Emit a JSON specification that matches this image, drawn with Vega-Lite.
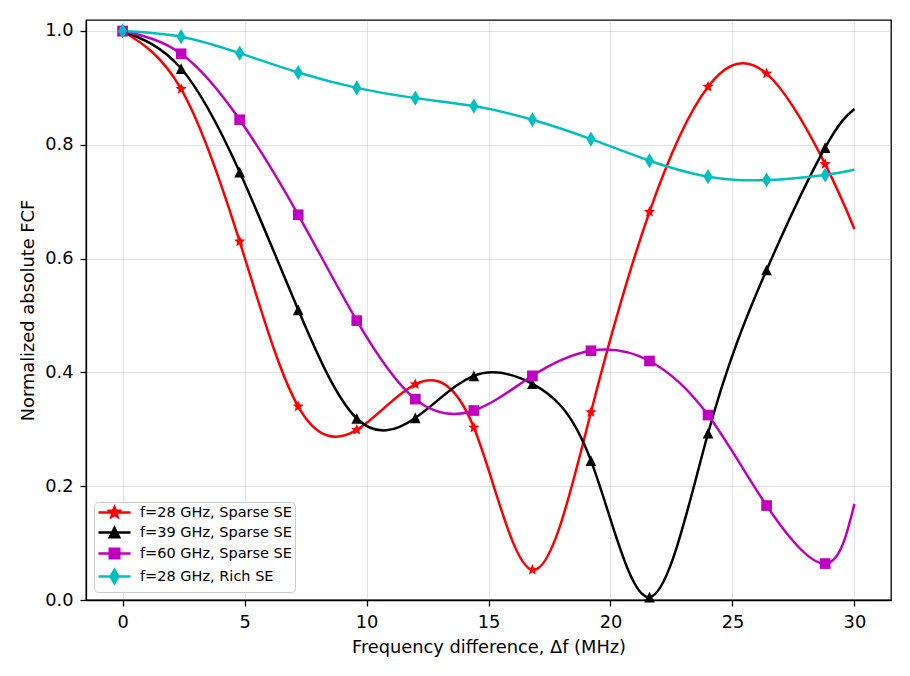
{
  "$schema": "https://vega.github.io/schema/vega-lite/v6.json",
  "width": 805,
  "height": 580,
  "autosize": {"type": "none"},
  "padding": {"left": 86, "top": 20, "right": 19, "bottom": 76},
  "background": "white",
  "data": {
    "values": [
      {"series": "f=28 GHz, Sparse SE", "x": 0, "y": 1.0},
      {"series": "f=28 GHz, Sparse SE", "x": 2.4, "y": 0.898},
      {"series": "f=28 GHz, Sparse SE", "x": 4.8, "y": 0.630},
      {"series": "f=28 GHz, Sparse SE", "x": 7.2, "y": 0.340},
      {"series": "f=28 GHz, Sparse SE", "x": 9.6, "y": 0.299},
      {"series": "f=28 GHz, Sparse SE", "x": 12, "y": 0.379},
      {"series": "f=28 GHz, Sparse SE", "x": 14.4, "y": 0.303},
      {"series": "f=28 GHz, Sparse SE", "x": 16.8, "y": 0.053},
      {"series": "f=28 GHz, Sparse SE", "x": 19.2, "y": 0.330},
      {"series": "f=28 GHz, Sparse SE", "x": 21.6, "y": 0.682},
      {"series": "f=28 GHz, Sparse SE", "x": 24, "y": 0.902},
      {"series": "f=28 GHz, Sparse SE", "x": 26.4, "y": 0.925},
      {"series": "f=28 GHz, Sparse SE", "x": 28.8, "y": 0.766},
      {"series": "f=28 GHz, Sparse SE", "x": 30, "y": 0.652},
      {"series": "f=39 GHz, Sparse SE", "x": 0, "y": 1.0},
      {"series": "f=39 GHz, Sparse SE", "x": 2.4, "y": 0.934},
      {"series": "f=39 GHz, Sparse SE", "x": 4.8, "y": 0.752},
      {"series": "f=39 GHz, Sparse SE", "x": 7.2, "y": 0.510},
      {"series": "f=39 GHz, Sparse SE", "x": 9.6, "y": 0.319},
      {"series": "f=39 GHz, Sparse SE", "x": 12, "y": 0.320},
      {"series": "f=39 GHz, Sparse SE", "x": 14.4, "y": 0.394},
      {"series": "f=39 GHz, Sparse SE", "x": 16.8, "y": 0.380},
      {"series": "f=39 GHz, Sparse SE", "x": 19.2, "y": 0.245},
      {"series": "f=39 GHz, Sparse SE", "x": 21.6, "y": 0.005},
      {"series": "f=39 GHz, Sparse SE", "x": 24, "y": 0.293},
      {"series": "f=39 GHz, Sparse SE", "x": 26.4, "y": 0.580},
      {"series": "f=39 GHz, Sparse SE", "x": 28.8, "y": 0.795},
      {"series": "f=39 GHz, Sparse SE", "x": 30, "y": 0.863},
      {"series": "f=60 GHz, Sparse SE", "x": 0, "y": 1.0},
      {"series": "f=60 GHz, Sparse SE", "x": 2.4, "y": 0.960},
      {"series": "f=60 GHz, Sparse SE", "x": 4.8, "y": 0.844},
      {"series": "f=60 GHz, Sparse SE", "x": 7.2, "y": 0.677},
      {"series": "f=60 GHz, Sparse SE", "x": 9.6, "y": 0.491},
      {"series": "f=60 GHz, Sparse SE", "x": 12, "y": 0.353},
      {"series": "f=60 GHz, Sparse SE", "x": 14.4, "y": 0.333},
      {"series": "f=60 GHz, Sparse SE", "x": 16.8, "y": 0.394},
      {"series": "f=60 GHz, Sparse SE", "x": 19.2, "y": 0.438},
      {"series": "f=60 GHz, Sparse SE", "x": 21.6, "y": 0.420},
      {"series": "f=60 GHz, Sparse SE", "x": 24, "y": 0.325},
      {"series": "f=60 GHz, Sparse SE", "x": 26.4, "y": 0.166},
      {"series": "f=60 GHz, Sparse SE", "x": 28.8, "y": 0.064},
      {"series": "f=60 GHz, Sparse SE", "x": 30, "y": 0.169},
      {"series": "f=28 GHz, Rich SE", "x": 0, "y": 1.0},
      {"series": "f=28 GHz, Rich SE", "x": 2.4, "y": 0.990},
      {"series": "f=28 GHz, Rich SE", "x": 4.8, "y": 0.961},
      {"series": "f=28 GHz, Rich SE", "x": 7.2, "y": 0.927},
      {"series": "f=28 GHz, Rich SE", "x": 9.6, "y": 0.900},
      {"series": "f=28 GHz, Rich SE", "x": 12, "y": 0.882},
      {"series": "f=28 GHz, Rich SE", "x": 14.4, "y": 0.868},
      {"series": "f=28 GHz, Rich SE", "x": 16.8, "y": 0.844},
      {"series": "f=28 GHz, Rich SE", "x": 19.2, "y": 0.810},
      {"series": "f=28 GHz, Rich SE", "x": 21.6, "y": 0.772},
      {"series": "f=28 GHz, Rich SE", "x": 24, "y": 0.744},
      {"series": "f=28 GHz, Rich SE", "x": 26.4, "y": 0.738},
      {"series": "f=28 GHz, Rich SE", "x": 28.8, "y": 0.747},
      {"series": "f=28 GHz, Rich SE", "x": 30, "y": 0.756}
    ]
  },
  "encoding": {
    "x": {
      "field": "x", "type": "quantitative",
      "scale": {"domain": [-1.5, 31.5], "nice": false, "zero": false},
      "axis": {"title": "Frequency difference, Δf (MHz)", "values": [0, 5, 10, 15, 20, 25, 30], "format": "d", "titlePadding": 8}
    },
    "y": {
      "field": "y", "type": "quantitative",
      "scale": {"domain": [0, 1.0193], "nice": false, "zero": false},
      "axis": {"title": "Normalized absolute FCF", "values": [0, 0.2, 0.4, 0.6, 0.8, 1.0], "format": ".1f", "titlePadding": 7}
    }
  },
  "layer": [
    {
      "mark": {"type": "line", "interpolate": "natural", "strokeWidth": 2.5},
      "encoding": {
        "color": {
          "field": "series", "type": "nominal",
          "scale": {
            "domain": ["f=28 GHz, Rich SE", "f=28 GHz, Sparse SE", "f=39 GHz, Sparse SE", "f=60 GHz, Sparse SE"],
            "range": ["#00bfbf", "#ff0000", "#000000", "#bf00bf"]
          },
          "legend": null
        },
        "order": {"field": "x", "type": "quantitative"}
      }
    },
    {
      "transform": [{"filter": "datum.series === 'f=28 GHz, Sparse SE' && datum.x < 30"}],
      "mark": {"type": "point", "filled": true, "opacity": 1, "size": 144, "strokeWidth": 1.4, "color": "#ff0000",
        "shape": "M0,-0.97L0.26,-0.36L0.92,-0.3L0.42,0.14L0.57,0.78L0,0.44L-0.57,0.78L-0.42,0.14L-0.92,-0.3L-0.26,-0.36Z"}
    },
    {
      "transform": [{"filter": "datum.series === 'f=39 GHz, Sparse SE' && datum.x < 30"}],
      "mark": {"type": "point", "filled": true, "opacity": 1, "size": 144, "strokeWidth": 1.4, "color": "#000000",
        "shape": "M0,-0.89L0.89,0.89L-0.89,0.89Z"}
    },
    {
      "transform": [{"filter": "datum.series === 'f=60 GHz, Sparse SE' && datum.x < 30"}],
      "mark": {"type": "point", "filled": true, "opacity": 1, "size": 144, "strokeWidth": 1.4, "color": "#bf00bf",
        "shape": "M-0.89,-0.89H0.89V0.89H-0.89Z"}
    },
    {
      "transform": [{"filter": "datum.series === 'f=28 GHz, Rich SE' && datum.x < 30"}],
      "mark": {"type": "point", "filled": true, "opacity": 1, "size": 144, "strokeWidth": 1.4, "color": "#00bfbf",
        "shape": "M0,-1.26L0.757,0L0,1.26L-0.757,0Z"}
    },
    {
      "transform": [{"filter": "datum.x > 100"}],
      "mark": {"type": "point", "filled": true, "opacity": 1, "size": 144, "strokeWidth": 2.4},
      "encoding": {
        "fill": {
          "field": "series", "type": "nominal",
          "scale": {
            "domain": ["f=28 GHz, Sparse SE", "f=39 GHz, Sparse SE", "f=60 GHz, Sparse SE", "f=28 GHz, Rich SE"],
            "range": ["#ff0000", "#000000", "#bf00bf", "#00bfbf"]
          },
          "legend": {"title": null}
        },
        "stroke": {
          "field": "series", "type": "nominal",
          "scale": {
            "domain": ["f=28 GHz, Sparse SE", "f=39 GHz, Sparse SE", "f=60 GHz, Sparse SE", "f=28 GHz, Rich SE"],
            "range": ["#ff0000", "#000000", "#bf00bf", "#00bfbf"]
          },
          "legend": {"title": null}
        },
        "shape": {
          "field": "series", "type": "nominal",
          "scale": {
            "domain": ["f=28 GHz, Sparse SE", "f=39 GHz, Sparse SE", "f=60 GHz, Sparse SE", "f=28 GHz, Rich SE"],
            "range": [
              "M-2.67,0H2.67M0,-0.9L0.24,-0.33L0.86,-0.28L0.39,0.13L0.53,0.73L0,0.41L-0.53,0.73L-0.39,0.13L-0.86,-0.28L-0.24,-0.33Z",
              "M-2.67,0H2.67M0,-0.8L0.8,0.8L-0.8,0.8Z",
              "M-2.67,0H2.67M-0.8,-0.8H0.8V0.8H-0.8Z",
              "M-2.67,0H2.67M0,-1.15L0.66,0L0,1.15L-0.66,0Z"
            ]
          },
          "legend": {"title": null}
        }
      }
    }
  ],
  "config": {
    "view": {"stroke": "#000000", "strokeWidth": 1.3},
    "axis": {
      "domainColor": "#000000", "domainWidth": 1.3,
      "tickColor": "#000000", "tickWidth": 1.3, "tickSize": 6,
      "labelFont": "DejaVu Sans", "labelFontSize": 17.8, "labelColor": "#000000", "labelPadding": 7,
      "titleFont": "DejaVu Sans", "titleFontSize": 17.8, "titleFontWeight": "normal", "titleColor": "#000000",
      "grid": true, "gridColor": "#b0b0b0", "gridOpacity": 0.35, "gridWidth": 1,
      "labelFlush": false, "labelOverlap": false
    },
    "legend": {
      "orient": "bottom-left",
      "offset": 8,
      "fillColor": "rgba(255,255,255,0.8)",
      "strokeColor": "#cccccc",
      "cornerRadius": 4,
      "padding": 3,
      "labelFont": "DejaVu Sans", "labelFontSize": 14.5, "labelColor": "#000000", "labelLimit": 400,
      "symbolSize": 144,
      "symbolOffset": 10,
      "labelOffset": 18,
      "rowPadding": 0,
      "symbolStrokeWidth": 2.4
    }
  }
}
